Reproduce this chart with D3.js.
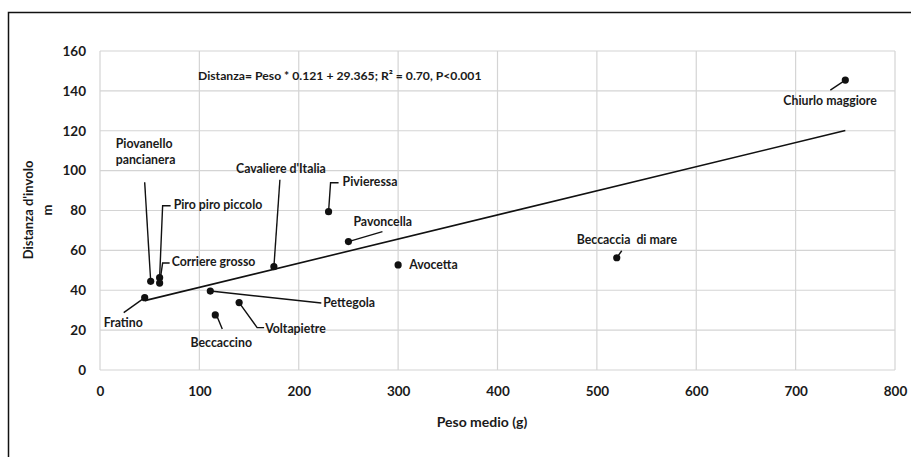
<!DOCTYPE html>
<html>
<head>
<meta charset="utf-8">
<script src="https://cdn.jsdelivr.net/npm/d3@7"></script>
<style>
  body { margin: 0; background: #fff; }
  text { font-family: Lato, "Open Sans", sans-serif; fill: #1a1a1a; }
</style>
</head>
<body>
<div id="chart"></div>
<script>
// values
const species = ["Fratino", "Piovanello pancianera", "Piro piro piccolo", "Corriere grosso",
  "Cavaliere d'Italia", "Pivieressa", "Pavoncella", "Avocetta", "Pettegola",
  "Voltapietre", "Beccaccino", "Beccaccia  di mare", "Chiurlo maggiore"];
const peso = [45, 51, 60, 60, 175, 230, 250, 300, 111, 140, 116, 520, 750];
const distanza = [36.3, 44.5, 46.3, 43.6, 51.8, 79.4, 64.4, 52.7, 39.6, 33.8, 27.6, 56.3, 145.4];
const xTicks = [0, 100, 200, 300, 400, 500, 600, 700, 800];
const yTicks = [0, 20, 40, 60, 80, 100, 120, 140, 160];
const slope = 0.121, intercept = 29.365;

// label placement, pixel offsets from each point: text start, and leader path
const labelLayout = [
  {dx: -41, dy: 26, leader: [[-21, 15]]},
  {dx: -35, dy: -136, lines: ["Piovanello", "pancianera"], leader: [[-6, -99]]},
  {dx: 14, dy: -72, leader: [[3, -72], [11, -72]]},
  {dx: 12, dy: -20, leader: [[3, -20], [10, -20]]},
  {dx: 7, dy: -97, anchor: "middle", leader: [[6, -87]]},
  {dx: 14, dy: -29, leader: [[2, -29], [10, -29]]},
  {dx: 5, dy: -19, leader: [[34, -10]]},
  {dx: 11, dy: 1, leader: []},
  {dx: 113, dy: 13, leader: [[111, 12]]},
  {dx: 26, dy: 27, leader: [[18, 25], [25, 25]]},
  {dx: 6, dy: 29, anchor: "middle", leader: [[2, 2], [7, 14]]},
  {dx: -40, dy: -17, leader: [[5, -7]]},
  {dx: -62, dy: 22, leader: [[-15, 10]]}
];

const W = 911, H = 457;
const svg = d3.select("#chart").append("svg")
  .attr("width", W).attr("height", H);

const x = d3.scaleLinear().domain([0, 800]).range([100, 895]);
const y = d3.scaleLinear().domain([0, 160]).range([370, 51]);

// outer frame (left + top only visible)
svg.append("path")
  .attr("d", "M8.5," + H + " V12.5 H" + W)
  .attr("fill", "none").attr("stroke", "#111").attr("stroke-width", 1.5);

// grid
svg.append("g").selectAll("line").data(xTicks).join("line")
  .attr("x1", d => x(d)).attr("x2", d => x(d))
  .attr("y1", y(0)).attr("y2", y(160))
  .attr("stroke", "#d4d4d4").attr("stroke-width", 1.2);
svg.append("g").selectAll("line").data(yTicks).join("line")
  .attr("x1", x(0)).attr("x2", x(800))
  .attr("y1", d => y(d)).attr("y2", d => y(d))
  .attr("stroke", "#d4d4d4").attr("stroke-width", 1.2);

// axes (labels only)
const xAxis = svg.append("g").attr("transform", "translate(0," + y(0) + ")")
  .call(d3.axisBottom(x).tickValues(xTicks).tickSize(0).tickPadding(16));
const yAxis = svg.append("g").attr("transform", "translate(" + x(0) + ",0)")
  .call(d3.axisLeft(y).tickValues(yTicks).tickSize(0).tickPadding(14));
[xAxis, yAxis].forEach(a => {
  a.select(".domain").remove();
  a.selectAll("text").style("font-family", "Lato, sans-serif")
    .style("font-size", "13.5px").style("font-weight", 700).attr("fill", "#1a1a1a");
});

// axis titles
svg.append("text").attr("x", 482).attr("y", 423).attr("text-anchor", "middle")
  .attr("dominant-baseline", "middle")
  .style("font-size", "14px").style("font-weight", 700).text("Peso medio (g)");
svg.append("text").attr("transform", "translate(30,210) rotate(-90)")
  .attr("text-anchor", "middle").attr("dominant-baseline", "middle")
  .style("font-size", "13px").style("font-weight", 700).text("Distanza d'involo");
svg.append("text").attr("transform", "translate(49,210) rotate(-90)")
  .attr("text-anchor", "middle").attr("dominant-baseline", "middle")
  .style("font-size", "13px").style("font-weight", 700).text("m");

// regression line
const xr = d3.extent(peso);
svg.append("line")
  .attr("x1", x(xr[0])).attr("y1", y(xr[0] * slope + intercept))
  .attr("x2", x(xr[1])).attr("y2", y(xr[1] * slope + intercept))
  .attr("stroke", "#111").attr("stroke-width", 1.6);

// equation
svg.append("text").attr("x", 198).attr("y", 77).attr("dominant-baseline", "middle")
  .style("font-size", "12.2px").style("font-weight", 700)
  .text("Distanza= Peso * " + slope + " + " + intercept + "; R² = 0.70, P<0.001");

// leaders, points, labels
const pts = species.map((s, i) => ({name: s, px: x(peso[i]), py: y(distanza[i]), lay: labelLayout[i]}));

svg.append("g").selectAll("path").data(pts.filter(p => p.lay.leader.length)).join("path")
  .attr("d", p => d3.line()([[p.px, p.py]].concat(p.lay.leader.map(o => [p.px + o[0], p.py + o[1]]))))
  .attr("fill", "none").attr("stroke", "#111").attr("stroke-width", 1.4);

svg.append("g").selectAll("circle").data(pts).join("circle")
  .attr("cx", p => p.px).attr("cy", p => p.py).attr("r", 3.6)
  .attr("fill", "#111");

const labels = svg.append("g").selectAll("text").data(pts).join("text")
  .attr("x", p => p.px + p.lay.dx).attr("y", p => p.py + p.lay.dy)
  .attr("text-anchor", p => p.lay.anchor || "start")
  .attr("dominant-baseline", "middle")
  .style("font-size", "12.3px").style("font-weight", 700)
  .style("white-space", "pre");
labels.each(function(p) {
  const t = d3.select(this);
  if (p.lay.lines) {
    p.lay.lines.forEach((ln, k) => t.append("tspan")
      .attr("x", p.px + p.lay.dx).attr("dy", k === 0 ? 0 : 16).text(ln));
  } else {
    t.text(p.name);
  }
});
</script>
</body>
</html>
